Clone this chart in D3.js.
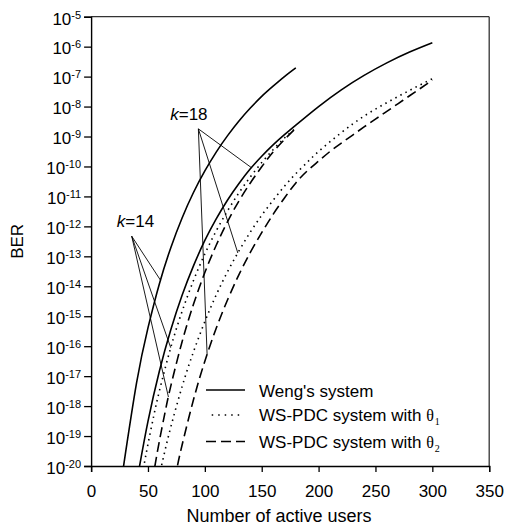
<!DOCTYPE html>
<html><head><meta charset="utf-8">
<script src="https://cdn.jsdelivr.net/npm/d3@7"></script>
<style>
html,body{margin:0;padding:0;background:#fff;}
svg{display:block;font-family:"Liberation Sans",Arial,Helvetica,sans-serif;}
</style></head>
<body>
<svg id="chart" width="505" height="529"></svg>
<script>
// ---- data (x = number of active users, y = BER) ----
const xTicks = [0, 50, 100, 150, 200, 250, 300, 350];
const yExponents = [-20, -19, -18, -17, -16, -15, -14, -13, -12, -11, -10, -9, -8, -7, -6, -5];

// k = 14
const wengK14Users = [28, 40, 50, 60, 70, 80, 90, 100, 110, 120, 130, 140, 150, 160, 170, 180];
const wengK14BER   = [7.24e-21, 6.03e-18, 4.07e-16, 1.20e-14, 1.91e-13, 1.91e-12, 1.35e-11, 7.08e-11,
                      3.02e-10, 1.07e-9, 3.31e-9, 8.91e-9, 2.19e-8, 4.79e-8, 1.0e-7, 1.95e-7];
const theta1K14Users = [46, 50, 55, 60, 70, 80, 90, 100, 110, 120, 130, 140, 150, 160, 170, 180];
const theta1K14BER   = [8.32e-21, 5.37e-20, 4.57e-19, 3.16e-18, 8.91e-17, 1.45e-15, 1.55e-14, 1.20e-13,
                        7.08e-13, 3.31e-12, 1.32e-11, 4.47e-11, 1.35e-10, 3.63e-10, 8.91e-10, 1.91e-9];
const theta2K14Users = [56, 60, 65, 70, 80, 90, 100, 110, 120, 130, 140, 150, 160, 170, 180];
const theta2K14BER   = [9.55e-21, 6.76e-20, 6.17e-19, 4.57e-18, 1.41e-16, 2.51e-15, 2.88e-14, 2.34e-13,
                        1.45e-12, 7.08e-12, 2.82e-11, 9.77e-11, 3.02e-10, 7.94e-10, 1.91e-9];

// k = 18
const wengK18Users = [42, 50, 60, 70, 80, 90, 100, 110, 120, 130, 140, 150, 160, 170, 180, 200, 220, 240, 260, 280, 300];
const wengK18BER   = [7.41e-21, 3.09e-19, 1.45e-17, 3.47e-16, 5.01e-15, 4.79e-14, 3.39e-13, 1.78e-12,
                      7.59e-12, 2.69e-11, 8.32e-11, 2.19e-10, 5.25e-10, 1.15e-9, 2.40e-9, 1.0e-8,
                      3.63e-8, 1.10e-7, 2.88e-7, 6.61e-7, 1.35e-6];
const theta1K18Users = [62, 65, 70, 80, 90, 100, 110, 120, 130, 140, 150, 160, 170, 180, 190, 200, 220, 240, 260, 280, 300];
const theta1K18BER   = [1.07e-20, 3.31e-20, 1.95e-19, 4.47e-18, 6.46e-17, 6.61e-16, 5.13e-15, 3.09e-14,
                        1.51e-13, 6.46e-13, 2.34e-12, 7.41e-12, 2.19e-11, 5.75e-11, 1.38e-10, 3.16e-10,
                        1.35e-9, 4.79e-9, 1.35e-8, 3.47e-8, 8.51e-8];
const theta2K18Users = [76, 80, 90, 100, 110, 120, 130, 140, 150, 160, 170, 180, 190, 200, 210, 220, 230, 240, 250, 260, 270, 280, 290, 300];
const theta2K18BER   = [1.05e-20, 5.01e-20, 1.62e-18, 3.16e-17, 3.98e-16, 3.55e-15, 2.45e-14, 1.35e-13,
                        6.17e-13, 2.51e-12, 8.91e-12, 2.82e-11, 7.08e-11, 1.51e-10, 3.16e-10, 6.03e-10,
                        1.12e-9, 2.09e-9, 3.80e-9, 6.92e-9, 1.26e-8, 2.29e-8, 4.17e-8, 7.59e-8];

// annotation pointers (label anchor and targets, in data units)
const k18Label = {text: "18", users: 86, ber: 3.5e-9};
const k18Origin = {users: 94.3, ber: 1.8e-9};
const k18Targets = [{users: 141, ber: 9.1e-11}, {users: 129, ber: 1.29e-13}, {users: 102, ber: 5.2e-17}];
const k14Label = {text: "14", users: 39, ber: 9.8e-13};
const k14Origin = {users: 35.7, ber: 4.7e-13};
const k14Targets = [{users: 61, ber: 1.6e-14}, {users: 70, ber: 8.9e-17}, {users: 68, ber: 2.0e-18}];

const legendLabels = ["Weng's system", "WS-PDC system with ", "WS-PDC system with "];
const legendSubs = ["", "1", "2"];

// ---- layout ----
const svg = d3.select("#chart");
const x = d3.scaleLinear().domain([0, 350]).range([91.1, 489.2]);
const y = d3.scaleLog().domain([1e-20, 1e-5]).range([466, 16.7]);

const styles = {
  solid: {dash: null, width: 1.6},
  dotted: {dash: "1.5,4.2", width: 1.6},
  dashed: {dash: "10,5", width: 1.6}
};

const series = [
  {u: wengK14Users, b: wengK14BER, s: "solid"},
  {u: theta1K14Users, b: theta1K14BER, s: "dotted"},
  {u: theta2K14Users, b: theta2K14BER, s: "dashed"},
  {u: wengK18Users, b: wengK18BER, s: "solid"},
  {u: theta1K18Users, b: theta1K18BER, s: "dotted"},
  {u: theta2K18Users, b: theta2K18BER, s: "dashed"}
];

svg.append("defs").append("clipPath").attr("id", "clip")
  .append("rect").attr("x", x(0)).attr("y", y(1e-5))
  .attr("width", x(350) - x(0)).attr("height", y(1e-20) - y(1e-5));

const line = d3.line().curve(d3.curveNatural).x(d => x(d[0])).y(d => y(d[1]));

const gCurves = svg.append("g").attr("clip-path", "url(#clip)");
series.forEach(sr => {
  const pts = sr.u.map((u, i) => [u, sr.b[i]]);
  gCurves.append("path").datum(pts)
    .attr("d", line)
    .attr("fill", "none")
    .attr("stroke", "#000")
    .attr("stroke-width", styles[sr.s].width)
    .attr("stroke-dasharray", styles[sr.s].dash);
});

// pointer lines
function pointers(origin, targets) {
  targets.forEach(t => {
    svg.append("line")
      .attr("x1", x(origin.users)).attr("y1", y(origin.ber))
      .attr("x2", x(t.users)).attr("y2", y(t.ber))
      .attr("stroke", "#000").attr("stroke-width", 0.9);
  });
}
pointers(k18Origin, k18Targets);
pointers(k14Origin, k14Targets);

function kLabel(lbl) {
  const t = svg.append("text")
    .attr("x", x(lbl.users)).attr("y", y(lbl.ber))
    .attr("text-anchor", "middle").attr("font-size", 17);
  t.append("tspan").attr("font-style", "italic").text("k");
  t.append("tspan").text("=" + lbl.text);
}
kLabel(k18Label);
kLabel(k14Label);

// frame: top and right
svg.append("line").attr("x1", x(0)).attr("x2", x(350)).attr("y1", y(1e-5)).attr("y2", y(1e-5))
  .attr("stroke", "#333").attr("stroke-width", 1.3);
svg.append("line").attr("x1", x(350)).attr("x2", x(350)).attr("y1", y(1e-5)).attr("y2", y(1e-20))
  .attr("stroke", "#333").attr("stroke-width", 1.3);

// x axis
const xAxis = d3.axisBottom(x).tickValues(xTicks).tickSize(6).tickPadding(5).tickFormat(d3.format("d"));
const gx = svg.append("g").attr("transform", `translate(0,${y(1e-20)})`).call(xAxis);
gx.select(".domain").attr("stroke", "#000").attr("stroke-width", 1.4);
gx.selectAll(".tick line").attr("stroke", "#000").attr("stroke-width", 1.3);
gx.selectAll(".tick text").attr("font-size", 17).attr("font-family", null).attr("fill", "#000")
  .attr("dy", null).attr("y", 30.7);

// y axis
const yAxis = d3.axisLeft(y).tickValues(yExponents.map(e => Math.pow(10, e))).tickSize(7).tickFormat("");
const gy = svg.append("g").attr("transform", `translate(${x(0)},0)`).call(yAxis);
gy.select(".domain").attr("stroke", "#000").attr("stroke-width", 1.4);
gy.selectAll(".tick line").attr("stroke", "#000").attr("stroke-width", 1.3);
gy.selectAll(".tick").each(function(d, i) {
  const t = d3.select(this).append("text")
    .attr("x", -10).attr("y", 7.3)
    .attr("text-anchor", "end").attr("fill", "#000").attr("font-size", 17);
  t.append("tspan").text("10");
  t.append("tspan").attr("font-size", 11).attr("dy", -6).text(String(yExponents[i]));
});

// axis titles
svg.append("text").attr("x", 279).attr("y", 522)
  .attr("text-anchor", "middle").attr("font-size", 18).attr("fill", "#000")
  .text("Number of active users");
svg.append("text").attr("transform", `translate(23,${(y(1e-5) + y(1e-20)) / 2}) rotate(-90)`)
  .attr("text-anchor", "middle").attr("font-size", 17).attr("fill", "#000")
  .text("BER");

// legend
const legendStyles = ["solid", "dotted", "dashed"];
const legY = [390, 415, 441.5];
const textY = [396.5, 421, 447.5];
legendStyles.forEach((s, i) => {
  const x1 = s === "dotted" ? 211.7 : 206;
  const x2 = s === "dotted" ? 240 : 245;
  svg.append("line").attr("x1", x1).attr("x2", x2).attr("y1", legY[i]).attr("y2", legY[i])
    .attr("stroke", "#000").attr("stroke-width", 1.6)
    .attr("stroke-dasharray", s === "dotted" ? "1.5,5" : styles[s].dash);
  const t = svg.append("text").attr("x", 259).attr("y", textY[i]).attr("font-size", 17).attr("fill", "#000");
  t.append("tspan").text(legendLabels[i]);
  if (legendSubs[i]) {
    t.append("tspan").attr("font-family", "'Liberation Serif','DejaVu Serif',serif").attr("font-size", 16).text("\u03b8");
    t.append("tspan").attr("font-family", "'Liberation Serif',serif").attr("font-size", 10).attr("dy", 4).attr("dx", 1).text(legendSubs[i]);
  }
});
</script>
</body></html>
